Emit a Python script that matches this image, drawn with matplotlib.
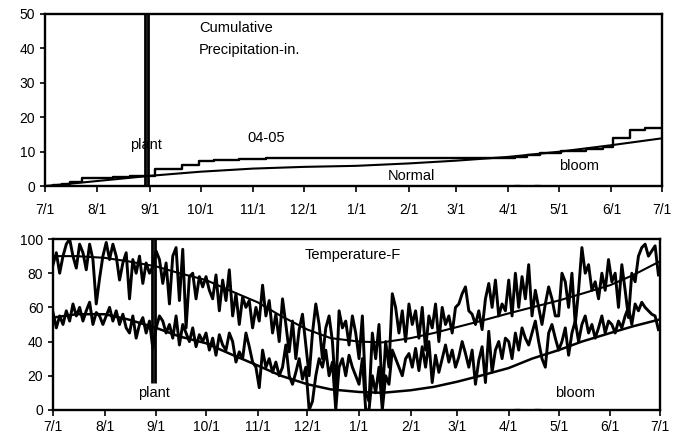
import matplotlib
matplotlib.use("Agg")
import matplotlib.pyplot as plt
import numpy as np

plt.rcParams['font.family'] = ['Liberation Sans', 'DejaVu Sans']

# month starts, days after 7/1/2004
month_days = [0, 31, 62, 92, 123, 153, 184, 215, 243, 274, 304, 335, 365]
month_labels = ['7/1', '8/1', '9/1', '10/1', '11/1', '12/1', '1/1', '2/1', '3/1', '4/1', '5/1', '6/1', '7/1']

# cumulative precipitation 04-05 (inches), steps
precip_days = [0, 5, 10, 15, 22, 30, 40, 50, 63, 65, 81, 91, 100, 115, 131, 200, 278, 285,
               293, 305, 320, 330, 336, 346, 355, 365]
precip_cum = [0, 0.3, 0.7, 1.2, 2.3, 2.5, 2.7, 2.9, 3.0, 4.9, 6.1, 7.2, 7.5, 7.8, 8.2, 8.3, 8.6, 9.0,
              9.6, 10.2, 10.8, 11.4, 14.0, 16.2, 16.8, 16.8]

# normal cumulative precipitation at month starts
normal_precip = [0, 1.5, 3.0, 4.2, 5.1, 5.6, 5.9, 6.6, 7.4, 8.5, 10.0, 11.9, 13.9]

# daily temperature readings, every 2nd day from 7/1
tmax = [85, 92, 80, 90, 97, 100, 90, 83, 97, 92, 82, 97, 88, 62, 77, 90,
        98, 88, 97, 90, 76, 86, 92, 65, 88, 80, 90, 74, 86, 80, 84,
        93, 88, 74, 86, 62, 90, 95, 64, 94, 48, 78, 80, 65, 78, 72,
        78, 70, 65, 79, 58, 76, 64, 82, 55, 68, 50, 66, 60, 64, 48, 60,
        52, 73, 55, 64, 45, 56, 40, 65, 50, 34, 52, 30, 47, 56, 38,
        20, 45, 62, 50, 30, 48, 55, 40, 10, 58, 48, 52, 38, 55, 45,
        30, 55, 10, 5, 45, 30, 50, 8, 40, 25, 68, 60, 45, 58, 40,
        62, 50, 58, 42, 60, 35, 55, 48, 62, 40, 60, 50, 55, 45, 60,
        62, 68, 72, 58, 56, 50, 58, 47, 65, 74, 60, 76, 55, 62, 58,
        76, 55, 80, 60, 78, 65, 85, 55, 70, 60, 50, 62, 72, 65, 55,
        55, 80, 75, 60, 80, 50, 70, 95, 80, 85, 70, 75, 65, 80, 70, 88,
        75, 80, 60, 85, 70, 54, 80, 75, 90, 95, 97, 90, 93, 96, 79]
tmin = [57, 48, 55, 50, 58, 52, 62, 55, 60, 52, 58, 63, 50, 57, 55, 50,
        55, 60, 52, 58, 50, 56, 48, 45, 55, 42, 50, 54, 45, 52, 36,
        48, 55, 52, 45, 50, 42, 55, 38, 50, 45, 40, 48, 37, 44, 40,
        45, 35, 42, 32, 44, 38, 35, 45, 40, 28, 34, 30, 45, 37, 28, 25,
        13, 35, 25, 30, 22, 28, 20, 25, 38, 20, 15, 22, 30, 18, 25,
        0, 5, 20, 30, 25, 35, 20, 28, 0, 25, 30, 20, 32, 25, 20,
        15, 30, 0, 0, 20, 10, 25, 0, 20, 15, 35, 30, 25, 20, 30,
        33, 25, 36, 23, 37, 25, 40, 16, 32, 22, 30, 38, 28, 35, 25,
        31, 40, 33, 25, 35, 15, 29, 37, 16, 46, 22, 35, 40, 30, 42,
        40, 30, 45, 35, 48, 42, 38, 45, 52, 40, 30, 25, 45, 50, 42,
        35, 40, 48, 32, 45, 52, 40, 50, 55, 45, 50, 42, 48, 55, 45, 52,
        50, 45, 52, 48, 55, 60, 50, 62, 58, 63, 60, 58, 56, 55, 47]
temp_days = np.arange(len(tmax)) * 2

# normal max / min temperature, 1st and 15th of each month
normal_days = [0, 14, 31, 45, 62, 76, 92, 106, 123, 137, 153, 167, 184, 198, 215, 229,
               243, 257, 274, 288, 304, 318, 335, 349, 365]
normal_max = [90, 90, 89, 87, 84, 80, 76, 70, 63, 55, 47, 42, 40, 39.5, 42, 45,
              48.5, 52, 56.5, 60, 64, 68, 73, 79, 87]
normal_min = [54, 56, 56, 53, 48, 43, 39, 33, 26, 20, 15, 12, 10.5, 10, 11.5, 13.5,
              16.5, 20, 24.5, 30, 35, 40, 45, 49, 53]

plant_days = [59.3, 61.2]
bloom_days = [279, 291]

fig = plt.figure(figsize=(6.77, 4.37), dpi=100)
ax1 = fig.add_axes([0.0665, 0.574, 0.9115, 0.394])
ax2 = fig.add_axes([0.0783, 0.062, 0.8967, 0.391])

# --- precipitation ---
ax1.step(precip_days, precip_cum, where='post', color='black', lw=1.7)
ax1.plot(month_days, normal_precip, color='black', lw=1.5)
for d in plant_days:
    ax1.axvline(d, color='black', lw=2)
ax1.plot(bloom_days, [0.4, 0.4], ls='none', marker='_', ms=4, color='#555555')
ax1.set_ylim(0, 50)
ax1.set_yticks(range(0, 51, 10))
ax1.text(91, 46, 'Cumulative', fontsize=10.5, va='center')
ax1.text(91, 39.5, 'Precipitation-in.', fontsize=10.5, va='center')
ax1.text(60, 12, 'plant', fontsize=10.5, ha='center', va='center')
ax1.text(131, 14, '04-05', fontsize=10.5, ha='center', va='center')
ax1.text(217, 3, 'Normal', fontsize=10.5, ha='center', va='center')
ax1.text(316, 6, 'bloom', fontsize=10.5, ha='center', va='center')

# --- temperature ---
ax2.plot(temp_days, tmax, color='black', lw=2.1)
ax2.plot(temp_days, tmin, color='black', lw=2.1)
ax2.plot(normal_days, normal_max, color='black', lw=1.5)
ax2.plot(normal_days, normal_min, color='black', lw=1.8)
ax2.vlines(plant_days, 16, 100, color='black', lw=2)
ax2.plot(bloom_days, [0.6, 0.6], ls='none', marker='_', ms=4, color='#555555')
ax2.set_ylim(0, 100)
ax2.set_yticks(range(0, 101, 20))
ax2.text(151, 90.5, 'Temperature-F', fontsize=10.5, va='center')
ax2.text(61, 10, 'plant', fontsize=10.5, ha='center', va='center')
ax2.text(314, 10, 'bloom', fontsize=10.5, ha='center', va='center')

for ax, pad in [(ax1, 8), (ax2, 3)]:
    ax.set_xlim(0, 365)
    ax.set_xticks(month_days)
    ax.set_xticklabels(month_labels)
    ax.tick_params(axis='x', direction='out', length=4, width=1.2, pad=pad, labelsize=10)
    ax.tick_params(axis='y', direction='out', length=3.5, width=1.2, labelsize=10)
    for s in ax.spines.values():
        s.set_linewidth(1.7)

plt.savefig("out.png", dpi=100)
